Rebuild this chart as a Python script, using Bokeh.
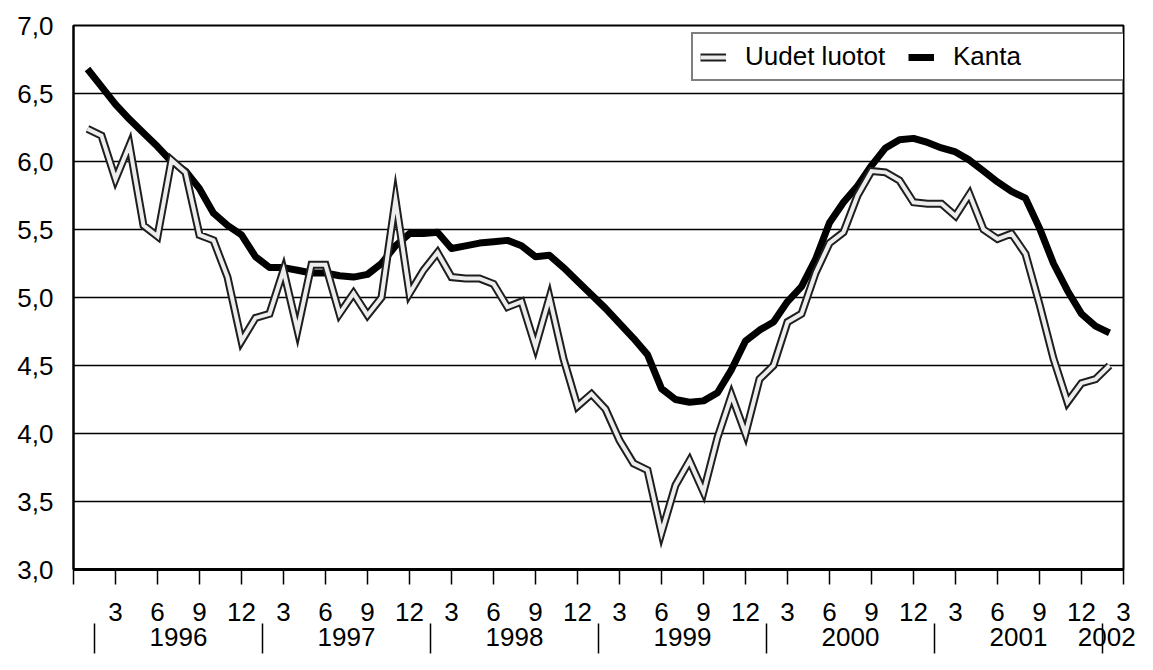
from bokeh.plotting import figure
from bokeh.models import Range1d, FixedTicker, LinearAxis, Legend, LegendItem
from bokeh.embed import file_html
from bokeh.resources import INLINE

# ---- data: monthly, Jan 1996 (month 1) .. Feb 2002 (month 74) ----
months = list(range(1, 75))

kanta = [
    6.68, 6.55, 6.42, 6.31, 6.21, 6.11, 6.00, 5.93, 5.80, 5.62, 5.53, 5.46,   # 1996
    5.30, 5.22, 5.22, 5.20, 5.18, 5.18, 5.16, 5.15, 5.17, 5.25, 5.38, 5.47,   # 1997
    5.47, 5.48, 5.36, 5.38, 5.40, 5.41, 5.42, 5.38, 5.30, 5.31, 5.22, 5.12,   # 1998
    5.02, 4.92, 4.81, 4.70, 4.58, 4.33, 4.25, 4.23, 4.24, 4.30, 4.47, 4.68,   # 1999
    4.76, 4.82, 4.97, 5.08, 5.28, 5.55, 5.70, 5.82, 5.97, 6.10, 6.16, 6.17,   # 2000
    6.14, 6.10, 6.07, 6.01, 5.93, 5.85, 5.78, 5.73, 5.51, 5.25, 5.05, 4.88,   # 2001
    4.79, 4.74,                                                               # 2002
]

uudet = [
    6.24, 6.19, 5.87, 6.12, 5.53, 5.45, 6.01, 5.92, 5.46, 5.42, 5.15, 4.68,   # 1996
    4.85, 4.88, 5.20, 4.76, 5.24, 5.24, 4.88, 5.03, 4.87, 5.00, 5.72, 5.03,   # 1997
    5.20, 5.33, 5.15, 5.14, 5.14, 5.10, 4.93, 4.97, 4.64, 5.00, 4.55, 4.20,   # 1998
    4.29, 4.18, 3.95, 3.78, 3.73, 3.27, 3.62, 3.80, 3.57, 3.97, 4.28, 4.00,   # 1999
    4.40, 4.50, 4.82, 4.88, 5.18, 5.40, 5.48, 5.75, 5.93, 5.92, 5.86, 5.70,   # 2000
    5.69, 5.69, 5.60, 5.76, 5.50, 5.43, 5.47, 5.32, 4.95, 4.55, 4.23, 4.37,   # 2001
    4.40, 4.50,                                                               # 2002
]

series_names = ["Uudet luotot", "Kanta"]
years = ["1996", "1997", "1998", "1999", "2000", "2001", "2002"]
month_tick_labels = [""] + ["3", "6", "9", "12"] * 6 + ["3"]
y_ticks = [3.0, 3.5, 4.0, 4.5, 5.0, 5.5, 6.0, 6.5, 7.0]
y_tick_labels = ["3,0", "3,5", "4,0", "4,5", "5,0", "5,5", "6,0", "6,5", "7,0"]

FONT = "Liberation Sans"
FS = "26px"

p = figure(width=1137, height=654, x_range=Range1d(0, 75), y_range=Range1d(3, 7),
           output_backend="svg", toolbar_location=None,
           min_border_left=73, min_border_right=14, min_border_top=25, min_border_bottom=85)
p.background_fill_color = "white"
p.border_fill_color = "white"
p.outline_line_color = "black"
p.outline_line_width = 2

# grid
p.xgrid.visible = False
p.ygrid.ticker = FixedTicker(ticks=y_ticks)
p.ygrid.grid_line_color = "black"
p.ygrid.grid_line_width = 1.5

# y axis
ya = p.yaxis[0]
ya.ticker = FixedTicker(ticks=y_ticks)
ya.major_label_overrides = {t: l for t, l in zip(y_ticks, y_tick_labels)}
ya.major_tick_out = 0
ya.major_tick_in = 0
ya.minor_tick_out = 0
ya.minor_tick_in = 0
ya.axis_line_color = "black"
ya.axis_line_width = 2
ya.major_label_standoff = 20
ya.major_label_text_font = FONT
ya.major_label_text_font_size = FS
ya.major_label_text_color = "black"

# x axis: months
month_ticks = list(range(0, 76, 3))
xa = p.xaxis[0]
xa.ticker = FixedTicker(ticks=month_ticks)
xa.major_label_overrides = {t: l for t, l in zip(month_ticks, month_tick_labels)}
xa.major_tick_out = 15
xa.major_tick_in = 0
xa.major_tick_line_width = 1.5
xa.major_tick_line_color = "black"
xa.minor_tick_out = 0
xa.minor_tick_in = 0
xa.axis_line_color = "black"
xa.axis_line_width = 3
xa.major_label_standoff = 18
xa.major_label_text_font = FONT
xa.major_label_text_font_size = FS
xa.major_label_text_color = "black"

# x axis: years with separators
year_centers = [7.5 + 12 * i for i in range(len(years) - 1)] + [73.8]
separators = [1.5 + 12 * i for i in range(len(years))]
xa2 = LinearAxis(ticker=FixedTicker(ticks=year_centers, minor_ticks=separators))
xa2.major_label_overrides = {t: l for t, l in zip(year_centers, years)}
xa2.axis_line_color = None
xa2.major_tick_out = 0
xa2.major_tick_in = 0
xa2.major_tick_line_color = None
xa2.minor_tick_out = 30
xa2.minor_tick_in = 0
xa2.minor_tick_line_color = "black"
xa2.minor_tick_line_width = 1.5
xa2.major_label_standoff = -26
xa2.major_label_text_font = FONT
xa2.major_label_text_font_size = FS
xa2.major_label_text_color = "black"
p.add_layout(xa2, "below")

# lines
r_k = p.line(months, kanta, line_color="black", line_width=7, line_join="round")
r_u1 = p.line(months, uudet, line_color="#1e1e1e", line_width=8, line_join="miter")
r_u2 = p.line(months, uudet, line_color="#ededed", line_width=4, line_join="miter")

legend = Legend(items=[LegendItem(label=series_names[0], renderers=[r_u1, r_u2]),
                       LegendItem(label=series_names[1], renderers=[r_k])],
                orientation="horizontal", location=(618, 488),
                padding=7, spacing=0, margin=0,
                glyph_width=26, glyph_height=20, label_standoff=19, label_width=163,
                label_height=20,
                label_text_font=FONT, label_text_font_size=FS, label_text_color="black",
                border_line_color="black", border_line_width=2,
                background_fill_color="white", background_fill_alpha=1.0)
p.add_layout(legend)

open("out.html", "w").write(file_html(p, INLINE))
